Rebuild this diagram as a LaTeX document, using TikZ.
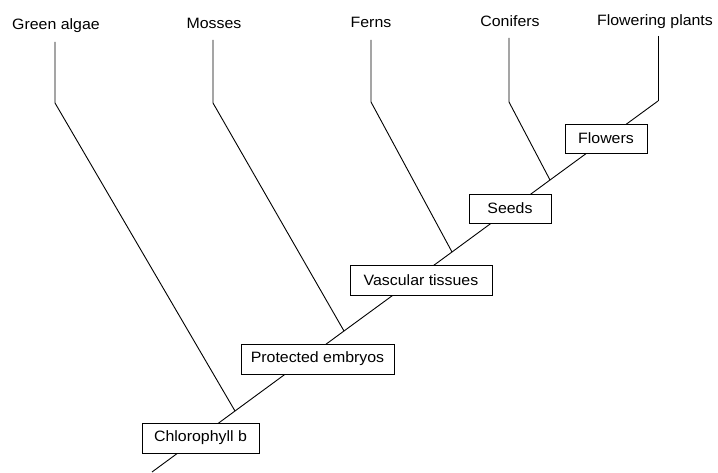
\documentclass[tikz,border=0pt]{standalone}
\usepackage{fontspec}
\setmainfont{Liberation Sans}[FakeStretch=1.06]
\begin{document}
\begin{tikzpicture}[x=1pt,y=-1pt,
  lbl/.style={anchor=base,inner sep=0pt,font=\fontsize{15}{18}\selectfont},
  trait/.style={draw,fill=white,line width=0.9pt,minimum height=30pt,inner sep=0pt,font=\fontsize{15}{18}\selectfont},
  br/.style={line width=0.9pt}]
\useasboundingbox (0,0) rectangle (718,473);
% taxon labels
\node[lbl] (ga) at (56,30) {Green algae};
\node[lbl] (mo) at (214,29) {Mosses};
\node[lbl] (fe) at (371,28) {Ferns};
\node[lbl] (co) at (510,27) {Conifers};
\node[lbl] (fp) at (655,26) {Flowering plants};
% vertical tops and bottoms
\coordinate (tGA) at (55,42);  \coordinate (bGA) at (55,103);
\coordinate (tMO) at (213,40); \coordinate (bMO) at (213,103);
\coordinate (tFE) at (371,40); \coordinate (bFE) at (371,102);
\coordinate (tCO) at (509,38); \coordinate (bCO) at (509,102);
\coordinate (tFP) at (658,36); \coordinate (bFP) at (658,101);
% main line
\coordinate (root) at (152,472);
\coordinate (jGA) at (235,411);
\coordinate (jMO) at (344,331);
\coordinate (jFE) at (452,252);
\coordinate (jCO) at (550,180);
\draw[br] (root) -- (jGA) -- (jMO) -- (jFE) -- (jCO) -- (bFP);
% branches
\draw[br] (tGA) -- (bGA) -- (jGA);
\draw[br] (tMO) -- (bMO) -- (jMO);
\draw[br] (tFE) -- (bFE) -- (jFE);
\draw[br] (tCO) -- (bCO) -- (jCO);
\draw[br] (tFP) -- (bFP);
% trait boxes
\node[trait,minimum width=117pt] (chl) at (200.5,438) {Chlorophyll b};
\node[trait,minimum width=153pt] (emb) at (317.5,359) {Protected embryos};
\node[trait,minimum width=142pt] (vas) at (421,280) {Vascular tissues};
\node[trait,minimum width=82pt,minimum height=29pt] (see) at (510,208.5) {Seeds};
\node[trait,minimum width=82pt,minimum height=29pt] (flo) at (606,138.5) {Flowers};
\end{tikzpicture}
\end{document}
